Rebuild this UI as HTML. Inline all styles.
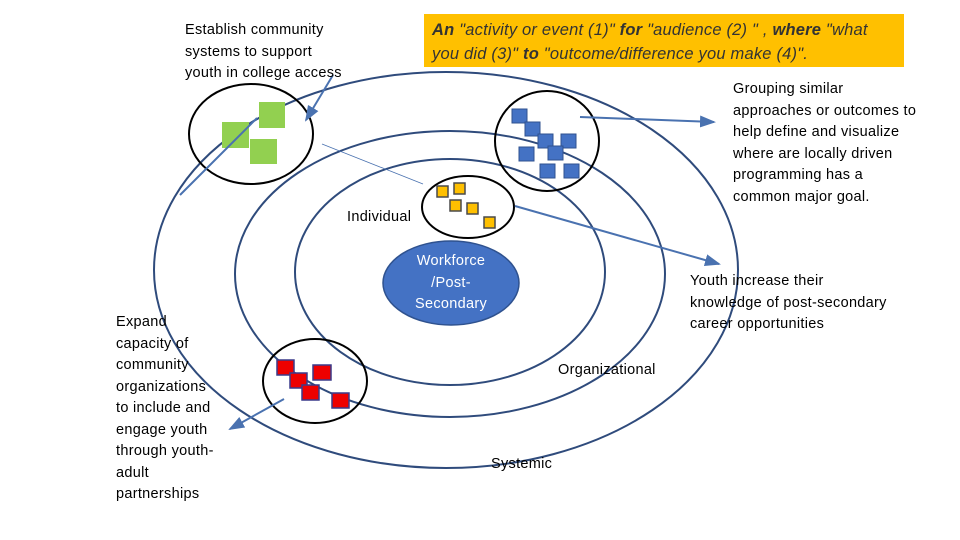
<!DOCTYPE html>
<html><head><style>
body{margin:0;width:960px;height:540px;background:#fff;overflow:hidden;position:relative;font-family:"Liberation Sans",sans-serif}
.t{position:absolute;font-size:14.5px;line-height:21.5px;color:#000;letter-spacing:0.3px}
</style></head><body>
<svg width="960" height="540" style="position:absolute;left:0;top:0">
<defs><marker id="a" markerWidth="8" markerHeight="8" refX="7" refY="4" orient="auto"><path d="M0,1 L8,4 L0,7z" fill="#4a72b0"/></marker></defs>
<g fill="none" stroke="#2f4b7c" stroke-width="2">
<ellipse cx="446" cy="270" rx="292" ry="198"/>
<ellipse cx="450" cy="274" rx="215" ry="143"/>
<ellipse cx="450" cy="272" rx="155" ry="113"/>
</g>
<ellipse cx="451" cy="283" rx="68" ry="42" fill="#4472c4" stroke="#2f528f" stroke-width="1.5"/>
<rect x="424" y="14" width="480" height="53" fill="#ffc000"/>
<g fill="none" stroke="#000" stroke-width="2">
<ellipse cx="251" cy="134" rx="62" ry="50"/>
<ellipse cx="547" cy="141" rx="52" ry="50"/>
<ellipse cx="468" cy="207" rx="46" ry="31"/>
<ellipse cx="315" cy="381" rx="52" ry="42"/>
</g>
<g fill="#92d050">
<rect x="259" y="102" width="26" height="26"/><rect x="222" y="122" width="27" height="26"/><rect x="250" y="139" width="27" height="25"/>
</g>
<g fill="#4472c4" stroke="#2f528f">
<rect x="512" y="109" width="15" height="14"/><rect x="525" y="122" width="15" height="14"/><rect x="538" y="134" width="15" height="14"/><rect x="561" y="134" width="15" height="14"/><rect x="519" y="147" width="15" height="14"/><rect x="548" y="146" width="15" height="14"/><rect x="540" y="164" width="15" height="14"/><rect x="564" y="164" width="15" height="14"/>
</g>
<g fill="#ffc000" stroke="#4a4a4a" stroke-width="1.5">
<rect x="437" y="186" width="11" height="11"/><rect x="454" y="183" width="11" height="11"/><rect x="450" y="200" width="11" height="11"/><rect x="467" y="203" width="11" height="11"/><rect x="484" y="217" width="11" height="11"/>
</g>
<g fill="#e00" stroke="#3a3a8a" stroke-width="1.5">
<rect x="277" y="360" width="17" height="15"/><rect x="290" y="373" width="17" height="15"/><rect x="313" y="365" width="18" height="15"/><rect x="302" y="385" width="17" height="15"/><rect x="332" y="393" width="17" height="15"/>
</g>
<g stroke="#4a72b0" stroke-width="2" fill="none">
<line x1="333" y1="75" x2="306" y2="120" marker-end="url(#a)"/>
<line x1="180" y1="195" x2="257" y2="118"/>
<line x1="580" y1="117" x2="714" y2="122" marker-end="url(#a)"/>
<line x1="515" y1="206" x2="719" y2="264" marker-end="url(#a)"/>
<line x1="284" y1="399" x2="230" y2="429" marker-end="url(#a)"/>
</g>
<line x1="322" y1="144" x2="423" y2="184" stroke="#4a72b0" stroke-width="0.8"/>
</svg>
<div class="t" style="left:185px;top:20px">Establish community<br>systems to support<br>youth in college access</div>
<div class="t" style="left:432px;top:18px;width:470px;font-style:italic;font-size:16.5px;line-height:24px;color:#333;letter-spacing:0.2px;white-space:nowrap">
<b>An</b> "activity or event (1)" <b>for</b> "audience (2) " , <b>where</b> "what<br>you did (3)" <b>to</b> "outcome/difference you make (4)".</div>
<div class="t" style="left:733px;top:79px">Grouping similar<br>approaches or outcomes to<br>help define and visualize<br>where are locally driven<br>programming has a<br>common major goal.</div>
<div class="t" style="left:347px;top:207px">Individual</div>
<div class="t" style="left:383px;top:251px;width:136px;text-align:center;color:#fff">Workforce<br>/Post-<br>Secondary</div>
<div class="t" style="left:690px;top:271px">Youth increase their<br>knowledge of post-secondary<br>career opportunities</div>
<div class="t" style="left:116px;top:312px">Expand<br>capacity of<br>community<br>organizations<br>to include and<br>engage youth<br>through youth-<br>adult<br>partnerships</div>
<div class="t" style="left:558px;top:360px">Organizational</div>
<div class="t" style="left:491px;top:454px">Systemic</div>
</body></html>
